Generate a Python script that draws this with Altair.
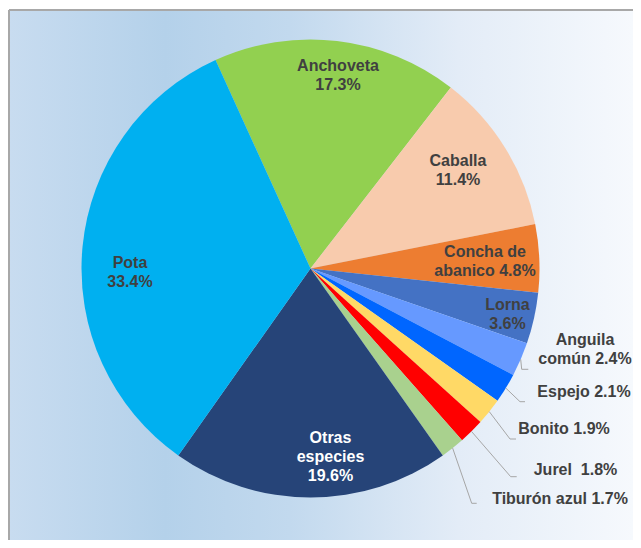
import math
import pandas as pd
import altair as alt

# ---- data ----
species = ["Anchoveta", "Caballa", "Concha de abanico", "Lorna", "Anguila común",
           "Espejo", "Bonito", "Jurel", "Tiburón azul", "Otras especies", "Pota"]
shares = [17.3, 11.4, 4.8, 3.6, 2.4, 2.1, 1.9, 1.8, 1.7, 19.6, 33.4]
colors = ["#92d050", "#f8cbad", "#ed7d31", "#4472c4", "#6699ff",
          "#0066ff", "#ffd966", "#ff0000", "#a9d18e", "#264478", "#00b0f0"]
display_names = ["Anchoveta", "Caballa", "Concha de\nabanico", "Lorna", "Anguila\ncomún",
                 "Espejo", "Bonito", "Jurel", "Tiburón azul", "Otras\nespecies", "Pota"]
name_pct_sep = ["\n", "\n", " ", "\n", " ", " ", " ", " \u00a0", " ", "\n", "\n"]

# ---- layout (page pixel coordinates) ----
W, H = 605, 521          # plot area
OX, OY = 8, 8            # page offset of plot area
CX, CY = OX + W / 2, OY + H / 2
R = 229
START_DEG = -24.5
# position of the first text line of each label
label_pos = [(338, 66), (458, 160.5), (485, 251.5), (507.5, 305), (585, 340),
             (584, 392), (564, 428.5), (575.5, 470), (560, 498.5), (330.5, 437.5), (130, 262.5)]
label_color = ["#404040"] * 9 + ["#ffffff", "#404040"]
leader = {
    "Anguila común": [(521.7, 369.3), (528.3, 369.3)],
    "Espejo": [(520, 401.7), (525, 401.7)],
    "Bonito": [(510, 439), (516, 439)],
    "Jurel": [(510.7, 476.7), (516.7, 476.7)],
    "Tiburón azul": [(471.7, 503.3), (476.7, 503.3)],
}

pie_df = pd.DataFrame({"species": species, "share": shares, "idx": list(range(len(species)))})

labels = [d + s + f"{v:.1f}%" for d, s, v in zip(display_names, name_pct_sep, shares)]
text_df = pd.DataFrame({
    "label": labels,
    "x": [p[0] for p in label_pos],
    "y": [p[1] for p in label_pos],
    "tcolor": label_color,
})

rows = []
cum = 0.0
for sp, v in zip(species, shares):
    mid = math.radians(START_DEG + (cum + v / 2) / 100 * 360)
    cum += v
    if sp in leader:
        pts = [(CX + R * math.sin(mid), CY - R * math.cos(mid))] + leader[sp]
        for k, (px, py) in enumerate(pts):
            rows.append({"key": sp, "ord": k, "x": px, "y": py})
line_df = pd.DataFrame(rows)

bg_df = pd.DataFrame({"x": [9], "x2": [OX + W + 20], "y": [10], "y2": [OY + H + 11]})
border_df = pd.DataFrame({"x": [9, 9], "x2": [9, OX + W + 20], "y": [10, 10], "y2": [OY + H + 11, 10]})

xs = alt.Scale(domain=[OX, OX + W], nice=False, zero=False)
ys = alt.Scale(domain=[OY, OY + H], nice=False, zero=False, reverse=True)

grad = alt.LinearGradient(
    gradient="linear", x1=0, x2=1, y1=0, y2=0,
    stops=[
        alt.GradientStop(color="#c8dcf0", offset=0),
        alt.GradientStop(color="#b4d1ea", offset=0.25),
        alt.GradientStop(color="#c2d9ee", offset=0.45),
        alt.GradientStop(color="#e3ecf7", offset=0.72),
        alt.GradientStop(color="#f6f9fd", offset=1),
    ],
)

bg = alt.Chart(bg_df).mark_rect(fill=grad).encode(
    x=alt.X("x:Q", scale=xs, axis=None), x2="x2:Q",
    y=alt.Y("y:Q", scale=ys, axis=None), y2="y2:Q",
)

border = alt.Chart(border_df).mark_rule(color="#a8a8a8", strokeWidth=2).encode(
    x=alt.X("x:Q", scale=xs, axis=None), x2="x2:Q",
    y=alt.Y("y:Q", scale=ys, axis=None), y2="y2:Q",
)

start = math.radians(START_DEG)
pie = alt.Chart(pie_df).mark_arc(outerRadius=R).encode(
    theta=alt.Theta("share:Q", stack=True,
                    scale=alt.Scale(type="linear", range=[start, start + 2 * math.pi])),
    color=alt.Color("species:N", scale=alt.Scale(domain=species, range=colors), legend=None),
    order=alt.Order("idx:Q", sort="ascending"),
)

lines = alt.Chart(line_df).mark_line(color="#a6a6a6", strokeWidth=1).encode(
    x=alt.X("x:Q", scale=xs, axis=None),
    y=alt.Y("y:Q", scale=ys, axis=None),
    detail="key:N",
    order="ord:Q",
)

text = alt.Chart(text_df).mark_text(
    font="Liberation Sans", fontSize=16, fontWeight="bold",
    lineBreak="\n", lineHeight=19, align="center", baseline="middle",
).encode(
    x=alt.X("x:Q", scale=xs, axis=None),
    y=alt.Y("y:Q", scale=ys, axis=None),
    text="label:N",
    color=alt.Color("tcolor:N", scale=None),
)

chart = alt.layer(bg, border, pie, lines, text).properties(
    width=W, height=H,
    padding={"left": 0, "top": 0, "right": 20, "bottom": 11},
    autosize=alt.AutoSizeParams(type="none"),
    background="#ffffff",
).configure_view(stroke=None)

chart.save("out.html", embed_options={"renderer": "svg", "actions": False})
